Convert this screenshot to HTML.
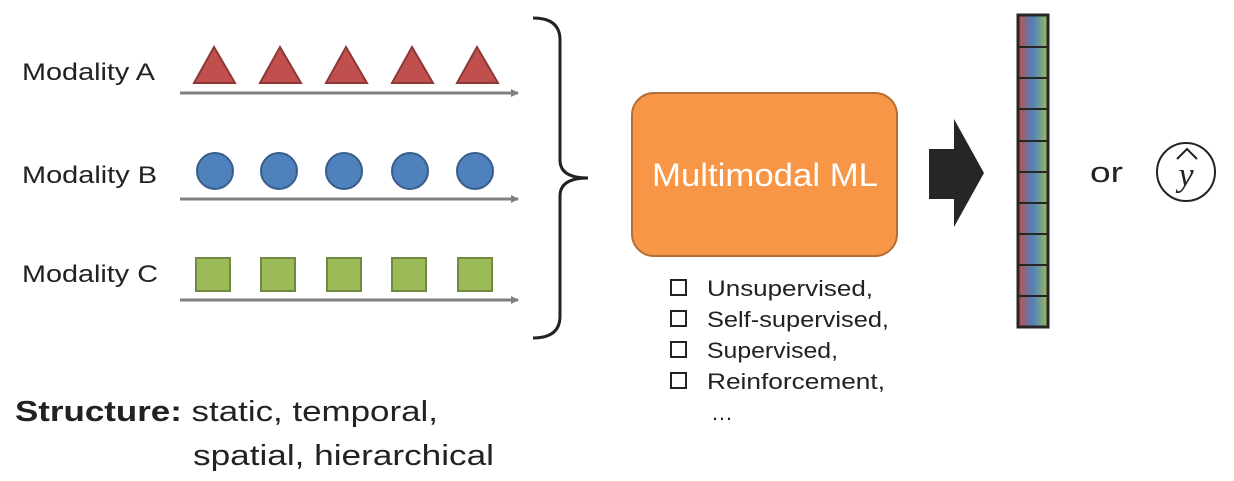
<!DOCTYPE html>
<html><head><meta charset="utf-8"><style>
html,body{margin:0;padding:0;background:#fff;width:1234px;height:481px;overflow:hidden}
text{font-family:"Liberation Sans",sans-serif}
</style></head><body>
<svg width="1234" height="481" viewBox="0 0 1234 481" xmlns="http://www.w3.org/2000/svg">
<defs>
<linearGradient id="g" x1="0" x2="1" y1="0" y2="0">
<stop offset="0" stop-color="#c0504d"/><stop offset="0.5" stop-color="#4f81bd"/><stop offset="1" stop-color="#9bbb59"/>
</linearGradient>
<marker id="ah" markerWidth="8" markerHeight="8" refX="7" refY="4" orient="auto" markerUnits="userSpaceOnUse">
<path d="M0,0 L8,4 L0,8 z" fill="#808080"/></marker>
</defs>
<g font-size="24" fill="#222" lengthAdjust="spacingAndGlyphs">
<text x="22" y="80" textLength="133" lengthAdjust="spacingAndGlyphs">Modality A</text>
<text x="22" y="183" textLength="135" lengthAdjust="spacingAndGlyphs">Modality B</text>
<text x="22" y="282" textLength="136" lengthAdjust="spacingAndGlyphs">Modality C</text>
</g>
<g fill="#c0504d" stroke="#8c3836" stroke-width="2">
<polygon points="194,83 214,47 235,83"/><polygon points="260,83 280,47 301,83"/><polygon points="326,83 346,47 367,83"/><polygon points="392,83 412,47 433,83"/><polygon points="457,83 477,47 498,83"/>
</g>
<g fill="#4f81bd" stroke="#385d8a" stroke-width="2">
<circle cx="215" cy="171" r="18"/><circle cx="279" cy="171" r="18"/><circle cx="344" cy="171" r="18"/><circle cx="410" cy="171" r="18"/><circle cx="475" cy="171" r="18"/>
</g>
<g fill="#9bbb59" stroke="#71893f" stroke-width="2">
<rect x="196" y="258" width="34" height="33"/><rect x="261" y="258" width="34" height="33"/><rect x="327" y="258" width="34" height="33"/><rect x="392" y="258" width="34" height="33"/><rect x="458" y="258" width="34" height="33"/>
</g>
<g stroke="#808080" stroke-width="3" marker-end="url(#ah)">
<line x1="180" y1="93" x2="518" y2="93"/><line x1="180" y1="199" x2="518" y2="199"/><line x1="180" y1="300" x2="518" y2="300"/>
</g>
<path d="M533,18 Q560,18 560,40 L560,160 Q560,178 588,178 Q560,178 560,196 L560,316 Q560,338 533,338" fill="none" stroke="#222" stroke-width="3"/>
<rect x="632" y="93" width="265" height="163" rx="22" fill="#f79646" stroke="#b66d31" stroke-width="2"/>
<text x="652" y="186" font-size="32" fill="#fff" textLength="226" lengthAdjust="spacingAndGlyphs">Multimodal ML</text>
<g font-size="22" fill="#222">
<text x="707" y="296" textLength="166" lengthAdjust="spacingAndGlyphs">Unsupervised,</text>
<text x="707" y="327" textLength="182" lengthAdjust="spacingAndGlyphs">Self-supervised,</text>
<text x="707" y="358" textLength="131" lengthAdjust="spacingAndGlyphs">Supervised,</text>
<text x="707" y="389" textLength="178" lengthAdjust="spacingAndGlyphs">Reinforcement,</text>
<text x="711" y="420">…</text>
</g>
<g fill="#fff" stroke="#222" stroke-width="2">
<rect x="671" y="280" width="15" height="15"/><rect x="671" y="311" width="15" height="15"/><rect x="671" y="342" width="15" height="15"/><rect x="671" y="373" width="15" height="15"/>
</g>
<polygon points="929,149 954,149 954,119 984,173 954,227 954,199 929,199" fill="#262626"/>
<rect x="1018" y="15" width="30" height="312" fill="url(#g)" stroke="#262626" stroke-width="3"/>
<g stroke="#262626" stroke-width="2">
<line x1="1018" y1="47" x2="1048" y2="47"/><line x1="1018" y1="78" x2="1048" y2="78"/><line x1="1018" y1="109" x2="1048" y2="109"/><line x1="1018" y1="141" x2="1048" y2="141"/><line x1="1018" y1="172" x2="1048" y2="172"/><line x1="1018" y1="203" x2="1048" y2="203"/><line x1="1018" y1="234" x2="1048" y2="234"/><line x1="1018" y1="265" x2="1048" y2="265"/><line x1="1018" y1="296" x2="1048" y2="296"/>
</g>
<text x="1090" y="182" font-size="29" fill="#222" textLength="33" lengthAdjust="spacingAndGlyphs">or</text>
<circle cx="1186" cy="172" r="29" fill="none" stroke="#222" stroke-width="2"/>
<text x="1186" y="186" font-size="34" font-style="italic" fill="#222" text-anchor="middle" style="font-family:'Liberation Serif',serif">y</text>
<path d="M1177,159 L1187,149 L1197,159" fill="none" stroke="#222" stroke-width="2"/>
<text x="15" y="421" font-size="29" fill="#222" textLength="423" lengthAdjust="spacingAndGlyphs"><tspan font-weight="bold">Structure:</tspan> static, temporal,</text>
<text x="193" y="465" font-size="29" fill="#222" textLength="301" lengthAdjust="spacingAndGlyphs">spatial, hierarchical</text>
</svg>
</body></html>
